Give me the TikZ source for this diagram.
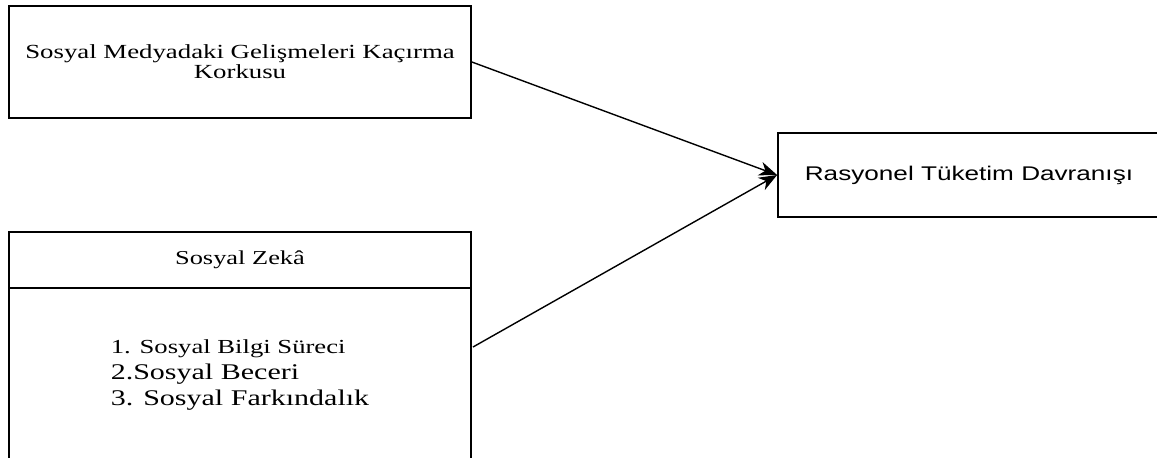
\documentclass[tikz,border=0pt]{standalone}
\usepackage{fontspec}
\setmainfont{Liberation Serif}
\newfontfamily\arialfont{Liberation Sans}
\usepackage{graphicx}
\usetikzlibrary{arrows.meta}
\newcommand{\genis}[1]{\scalebox{1.34}[1]{#1}}

\begin{document}
\begin{tikzpicture}[x=0.5pt,y=-0.5pt,
	kutu/.style={draw,line width=0.9pt,inner sep=0pt,align=center},
	ok/.style={-{Stealth[length=9pt,width=7pt,inset=2.8pt]},line width=0.7pt}]
	\useasboundingbox (0,0) rectangle (1157,457);
	
	\node (korku) at (240,62)[kutu,minimum width=231pt,minimum height=56pt,
		font={\fontsize{10pt}{10.15pt}\selectfont\lineskiplimit=-20pt}]{\genis{Sosyal Medyadaki Gelişmeleri Kaçırma}\\\genis{Korkusu}};
	\node (rasyonel) at (969,175)[kutu,minimum width=191pt,minimum height=42pt,
		font={\arialfont\fontsize{9.9pt}{12pt}\selectfont}]{\scalebox{1.32}[1]{Rasyonel Tüketim Davranışı}};
	
	\node (zeka) at (240,260)[kutu,minimum width=231pt,minimum height=28pt,
		font={\fontsize{9.85pt}{12pt}\selectfont}]{\genis{Sosyal Zekâ}};
	\node (zekaliste) at (240,381)[kutu,minimum width=231pt,minimum height=93pt,align=left,
		font={\fontsize{11.2pt}{13pt}\selectfont\lineskiplimit=-20pt}]{{\fontsize{9.95pt}{13pt}\selectfont\genis{1. Sosyal Bilgi Süreci}}\\\genis{2.Sosyal Beceri}\\\genis{3. Sosyal Farkındalık}\rule[-8.4pt]{0pt}{8.4pt}};
	
	\coordinate (zekaucu) at (473,347);
	\draw[ok] (korku.east) -- (rasyonel.west);
	\draw[ok] (zekaucu) -- (rasyonel.west);
\end{tikzpicture}
\end{document}
